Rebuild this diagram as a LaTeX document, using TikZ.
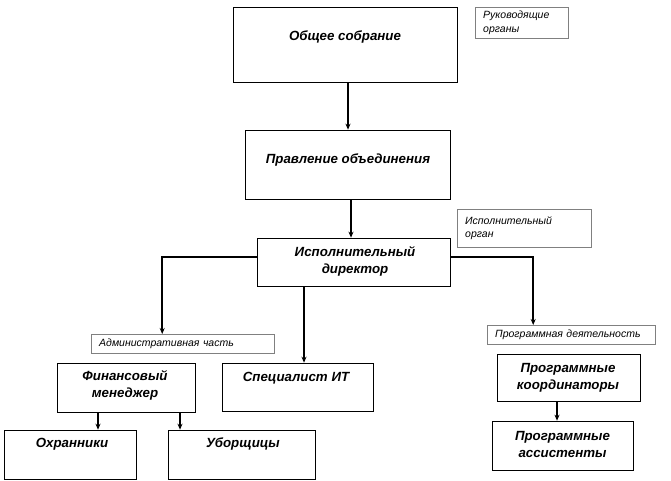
\documentclass[tikz,border=0pt]{standalone}
\usepackage{fontspec}
\setmainfont{Liberation Sans}
\usetikzlibrary{arrows.meta}
\begin{document}
\begin{tikzpicture}[x=1pt,y=-1pt]
\tikzstyle{lien}=[->,>={Stealth[length=6pt,width=5pt]},line width=1.5pt]
\tikzset{bloc/.style 2 args={draw,semithick,minimum width=#1,minimum height=#2},
titre/.style={font=\fontsize{13.3}{17}\selectfont\bfseries\itshape,align=center,inner sep=0pt},
note/.style={draw=gray,anchor=north west,align=left,inner xsep=8pt,inner ysep=2pt,
font=\fontsize{10.5}{13.5}\selectfont\itshape}}
\useasboundingbox (0,0) rectangle (671,481);

\node[bloc={224pt}{75pt}] (sobranie) at (345,44.5) {};
\node[titre] (sobranie-t) at (345,37) {Общее собрание};
\node[bloc={205pt}{69pt}] (pravlenie) at (347.5,164.5) {};
\node[titre] (pravlenie-t) at (348,160) {Правление объединения};
\node[bloc={193pt}{48pt}] (direktor) at (353.5,262) {};
\node[titre] (direktor-t) at (355,261) {Исполнительный\\директор};

\node[bloc={138pt}{49pt}] (finman) at (126,387.5) {};
\node[titre] (finman-t) at (125,385) {Финансовый\\менеджер};
\node[bloc={151pt}{48pt}] (specialist) at (297.5,387) {};
\node[titre] (specialist-t) at (296,378) {Специалист ИТ};
\node[bloc={132pt}{49pt}] (okhrana) at (70,454.5) {};
\node[titre] (okhrana-t) at (72,444) {Охранники};
\node[bloc={147pt}{49pt}] (uborka) at (241.5,454.5) {};
\node[titre] (uborka-t) at (243,444) {Уборщицы};

\node[bloc={143pt}{47pt}] (koord) at (568.5,377.5) {};
\node[titre] (koord-t) at (568,378) {Программные\\координаторы};
\node[bloc={141pt}{49pt}] (assist) at (562.5,445.5) {};
\node[titre] (assist-t) at (562.5,444.5) {Программные\\ассистенты};

\node[note,text width=77pt,minimum height=31pt] (n-rukovod) at (475,7) {Руководящие\\органы};
\node[note,text width=118pt,minimum height=38pt] (n-ispoln) at (457,209) {Исполнительный\\орган};
\node[note,text width=167pt,minimum height=19pt] (n-admin) at (91,334) {Административная часть};
\node[note,text width=152pt,minimum height=19pt] (n-program) at (487,325) {Программная деятельность};

\draw[lien] ([xshift=0.5pt]pravlenie.north |- sobranie.south) -- ([xshift=0.5pt]pravlenie.north);
\draw[lien] ([xshift=-2.5pt]direktor.north |- pravlenie.south) -- ([xshift=-2.5pt]direktor.north);
\draw[lien] ([yshift=5pt]direktor.west) -| ([xshift=-20.5pt]n-admin.north);
\draw[lien] ([xshift=-49.5pt]direktor.south) -- ([xshift=-49.5pt]direktor.south |- specialist.north);
\draw[lien] ([yshift=5pt]direktor.east) -| ([xshift=-38pt]n-program.north);
\draw[lien] ([xshift=-28pt]finman.south) -- ([xshift=-28pt]finman.south |- okhrana.north);
\draw[lien] ([xshift=54pt]finman.south) -- ([xshift=54pt]finman.south |- uborka.north);
\draw[lien] ([xshift=-11.5pt]koord.south) -- ([xshift=-11.5pt]koord.south |- assist.north);

\end{tikzpicture}
\end{document}
